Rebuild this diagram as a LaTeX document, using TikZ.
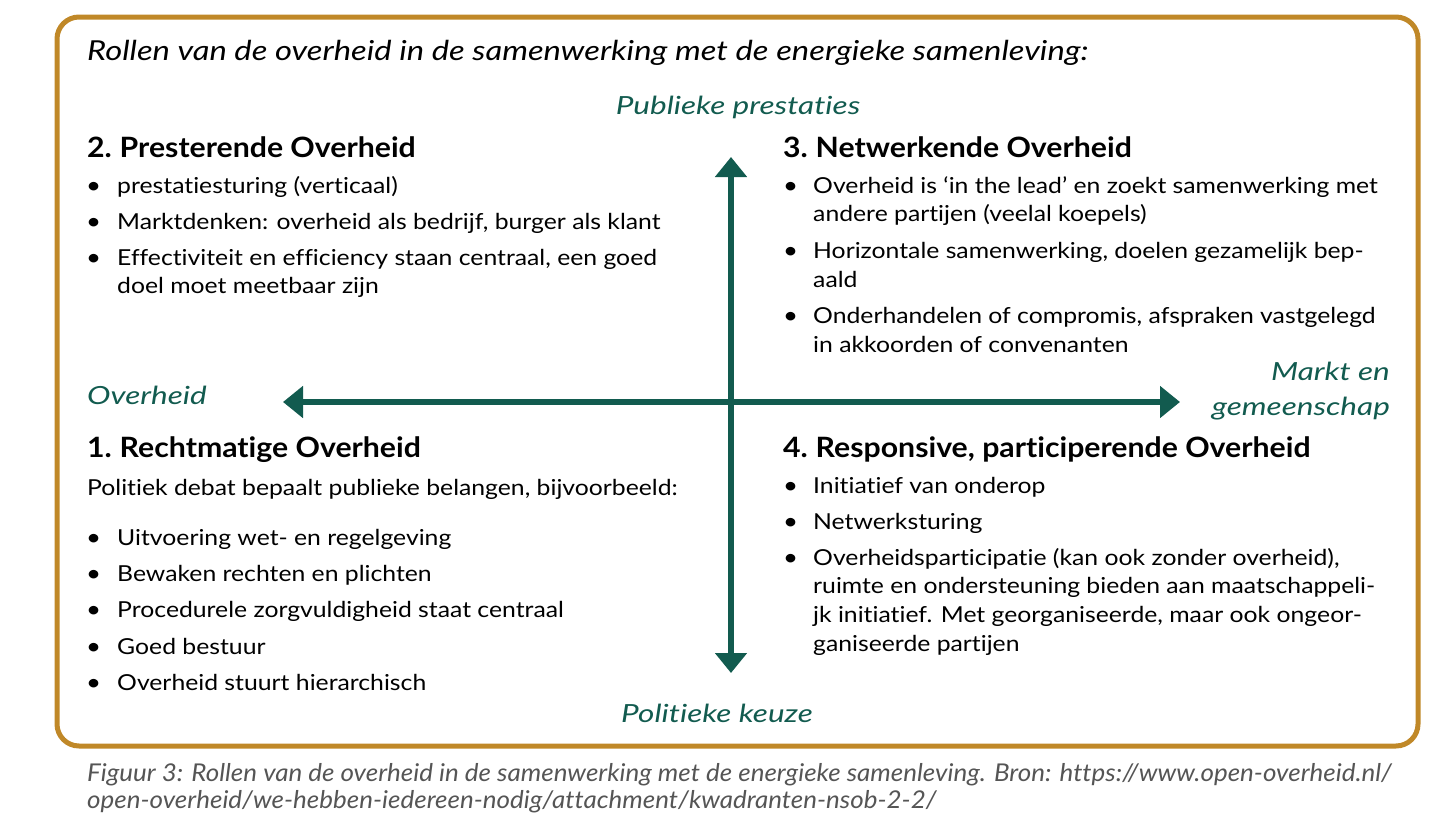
\documentclass[tikz,border=0pt]{standalone}
\usepackage{fontspec}
\setmainfont{Lato}[Ligatures=NoCommon]
\newfontfamily\bodyfont{Lato}[FakeStretch=1.125, Ligatures=NoCommon]
\newfontfamily\headfont{Lato}[FakeStretch=1.08, Ligatures=NoCommon]
\newfontfamily\titlefont{Lato}[FakeStretch=1.19, Ligatures=NoCommon]
\newfontfamily\axfont{Lato}[FakeStretch=1.26, Ligatures=NoCommon]
\newfontfamily\capfont{Lato}[FakeStretch=1.06, Ligatures=NoCommon]
\usetikzlibrary{arrows.meta}
\definecolor{gold}{HTML}{C08828}
\definecolor{dgreen}{HTML}{125B4F}
\definecolor{capgrey}{HTML}{555555}
\begin{document}
\begin{tikzpicture}[x=1pt,y=-1pt,
  body/.style={anchor=base west, inner sep=0pt, font=\bodyfont\fontsize{22}{26}\selectfont},
  bul/.style={anchor=base west, inner sep=0pt, font=\bodyfont\fontsize{23}{26}\selectfont},
  head/.style={anchor=base west, inner sep=0pt, font=\headfont\fontsize{28}{32}\selectfont\bfseries},
  axlab/.style={inner sep=0pt, text=dgreen, font=\axfont\fontsize{25}{30}\selectfont\itshape},
  captext/.style={anchor=base west, inner sep=0pt, text=capgrey, font=\capfont\fontsize{24.5}{28}\selectfont\itshape},
  axisarrow/.style={dgreen, line width=5.5pt, {Triangle[width=31pt,length=20pt]}-{Triangle[width=31pt,length=20pt]}}
]
\useasboundingbox (0,0) rectangle (1438,830);
\draw[gold, line width=5pt, rounded corners=22pt] (57,17) rectangle (1418,746);

\node[anchor=base west, inner sep=0pt, font=\titlefont\fontsize{27.5}{32}\selectfont\itshape] (title) at (87,60) {Rollen van de overheid in de samenwerking met de energieke samenleving:};

% axes
\coordinate (vtop) at (731,157);
\coordinate (vbot) at (731,673);
\coordinate (hleft) at (283,402);
\coordinate (hright) at (1180,402);
\draw[axisarrow] (vtop) -- (vbot);
\draw[axisarrow] (hleft) -- (hright);

\node[axlab, anchor=base] (pp) at (738,114) {Publieke prestaties};
\node[axlab, anchor=base west] (ov) at (87,404) {Overheid};
\node[axlab, anchor=base east] (mk1) at (1390,380) {Markt en};
\node[axlab, anchor=base east] (mk2) at (1390,415) {gemeenschap};
\node[axlab, anchor=base] (pk) at (717,722) {Politieke keuze};

% quadrant 2
\node[head] (h2) at (87,157) {2.\hspace{-2pt} Presterende Overheid};
\node[bul] (b21) at (86,193) {\textbullet};
\node[body] (t21) at (117,193) {prestatiesturing (verticaal)};
\node[bul] (b22) at (86,229) {\textbullet};
\node[body] (t22) at (117,229) {Marktdenken: overheid als bedrijf, burger als klant};
\node[bul] (b23) at (86,265) {\textbullet};
\node[body] (t23a) at (117,265) {Effectiviteit en efficiency staan centraal, een goed};
\node[body] (t23b) at (117,293) {doel moet meetbaar zijn};

% quadrant 3
\node[head] (h3) at (783,157) {3.\hspace{-2pt} Netwerkende Overheid};
\node[bul] (b31) at (783,193) {\textbullet};
\node[body] (t31a) at (813,193) {Overheid is ‘in the lead’ en zoekt samenwerking met};
\node[body] (t31b) at (813,221) {andere partijen (veelal koepels)};
\node[bul] (b32) at (783,258) {\textbullet};
\node[body] (t32a) at (813,258) {Horizontale samenwerking, doelen gezamelijk bep-};
\node[body] (t32b) at (813,287) {aald};
\node[bul] (b33) at (783,323) {\textbullet};
\node[body] (t33a) at (813,323) {Onderhandelen of compromis, afspraken vastgelegd};
\node[body] (t33b) at (813,352) {in akkoorden of convenanten};

% quadrant 1
\node[head] (h1) at (87,457) {1.\hspace{-2pt} Rechtmatige Overheid};
\node[body] (t1i) at (87,495) {Politiek debat bepaalt publieke belangen, bijvoorbeeld:};
\node[bul] (b11) at (86,545) {\textbullet};
\node[body] (t11) at (117,545) {Uitvoering wet- en regelgeving};
\node[bul] (b12) at (86,581) {\textbullet};
\node[body] (t12) at (117,581) {Bewaken rechten en plichten};
\node[bul] (b13) at (86,617) {\textbullet};
\node[body] (t13) at (117,617) {Procedurele zorgvuldigheid staat centraal};
\node[bul] (b14) at (86,654) {\textbullet};
\node[body] (t14) at (117,654) {Goed bestuur};
\node[bul] (b15) at (86,690) {\textbullet};
\node[body] (t15) at (117,690) {Overheid stuurt hierarchisch};

% quadrant 4
\node[head] (h4) at (783,457) {4.\hspace{-2pt} Responsive, participerende Overheid};
\node[bul] (b41) at (783,493) {\textbullet};
\node[body] (t41) at (813,493) {Initiatief van onderop};
\node[bul] (b42) at (783,529) {\textbullet};
\node[body] (t42) at (813,529) {Netwerksturing};
\node[bul] (b43) at (783,565) {\textbullet};
\node[body] (t43a) at (813,565) {Overheidsparticipatie (kan ook zonder overheid),};
\node[body] (t43b) at (813,593) {ruimte en ondersteuning bieden aan maatschappeli-};
\node[body] (t43c) at (813,622) {jk initiatief. Met georganiseerde, maar ook ongeor-};
\node[body] (t43d) at (813,651) {ganiseerde partijen};

% caption
\node[captext] (c1) at (87,781) {Figuur 3: Rollen van de overheid in de samenwerking met de energieke samenleving. Bron: https://www.open-overheid.nl/};
\node[captext] (c2) at (87,808) {open-overheid/we-hebben-iedereen-nodig/attachment/kwadranten-nsob-2-2/};
\end{tikzpicture}
\end{document}
